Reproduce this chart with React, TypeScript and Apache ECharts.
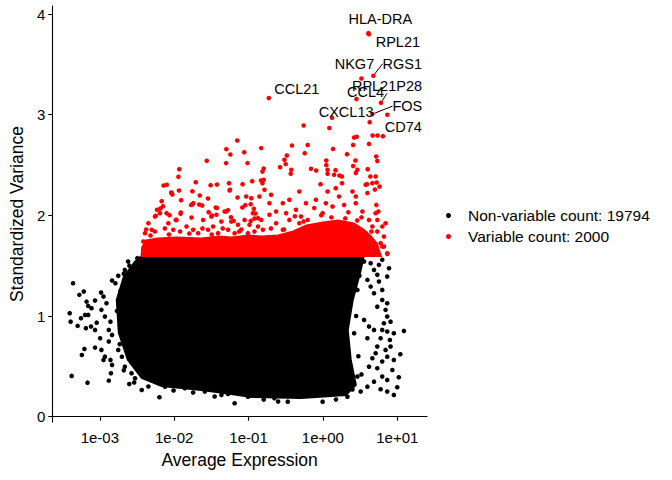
import React, { useEffect, useRef } from "react";
import * as echarts from "echarts";

// axis ticks
const xTicks = [1e-3, 1e-2, 1e-1, 1, 10];
const yTicks = [0, 1, 2, 3, 4];

const nonVariableCount = 19794;
const variableCount = 2000;

// outline of the solid black mass of non-variable genes [avg expression, std variance]
const blackCore: number[][] = [
  [0.00366, 1.597], [3.54, 1.597], [3.23, 1.458], [2.52, 1.16], [2.16, 0.861],
  [2.37, 0.564], [2.77, 0.315], [2.03, 0.216], [0.508, 0.186], [0.109, 0.196],
  [0.0587, 0.226], [0.0233, 0.266], [0.00678, 0.305], [0.00366, 0.385],
  [0.00238, 0.564], [0.0018, 0.832], [0.00169, 1.16], [0.0021, 1.389], [0.00295, 1.538],
];

// outline of the solid red band of variable genes
const redBand: number[][] = [
  [0.00366, 1.597], [0.0037, 1.68], [0.0042, 1.75], [0.006, 1.77], [0.0108, 1.78],
  [0.0233, 1.77], [0.04, 1.79], [0.0587, 1.78], [0.1, 1.8], [0.148, 1.79], [0.25, 1.8],
  [0.4, 1.84], [0.6, 1.9], [1.0, 1.93], [1.6, 1.95], [2.6, 1.92], [3.5, 1.86],
  [4.3, 1.8], [5.3, 1.72], [6.0, 1.597],
];

// scattered non-variable genes around the edges
const blackPoints: number[][] = [
  [0.000436, 1.326], [0.00053, 1.21], [0.000608, 1.243], [0.000393, 1.028], [0.000405, 0.944],
  [0.000503, 0.902], [0.000558, 0.978], [0.000663, 1.143], [0.000697, 1.1], [0.000773, 1.078],
  [0.000633, 1.011], [0.000697, 1.011], [0.00065, 0.879], [0.000762, 0.895], [0.000862, 0.862],
  [0.000907, 0.934], [0.000862, 1.153], [0.00104, 1.233], [0.00112, 1.193], [0.00062, 0.673],
  [0.000573, 0.613], [0.000862, 0.686], [0.000418, 0.405], [0.000683, 0.338], [0.00105, 0.663],
  [0.00117, 0.596], [0.00112, 0.564], [0.00139, 0.564], [0.00146, 0.514], [0.00132, 0.358],
  [0.00141, 0.431], [0.00101, 0.779], [0.00132, 0.746], [0.00146, 0.812], [0.00117, 0.994],
  [0.00139, 0.944], [0.00132, 0.862], [0.00105, 1.061], [0.00123, 1.127], [0.00146, 1.352],
  [0.00162, 1.326], [0.00177, 1.399], [0.00217, 1.458], [0.0024, 1.541], [0.00249, 0.325],
  [0.00366, 0.265], [0.00634, 0.193], [0.00752, 0.298], [0.0139, 0.282], [0.0258, 0.249],
  [0.065, 0.133], [0.0432, 0.216], [0.053, 0.226], [0.00177, 0.663], [0.00198, 0.596],
  [0.00217, 0.497], [0.00267, 0.431], [0.00298, 0.382], [0.337, 0.149], [0.991, 0.149],
  [0.0983, 0.199], [0.223, 0.183], [0.458, 0.199], [0.691, 0.216], [2.14, 0.199],
  [3.22, 0.249], [3.97, 0.298], [4.87, 0.348], [6.28, 0.398], [7.33, 0.365],
  [9.0, 0.216], [7.33, 0.249], [5.97, 0.272], [10.5, 0.392], [10.0, 0.292],
  [8.59, 0.464], [9.0, 0.564], [7.33, 0.596], [6.28, 0.547], [5.39, 0.481],
  [4.17, 0.497], [4.63, 0.58], [11.0, 0.62], [5.12, 0.63], [5.39, 0.696],
  [6.97, 0.663], [8.12, 0.696], [7.96, 0.762], [9.0, 0.829], [7.33, 0.845],
  [5.97, 0.779], [12.3, 0.852], [8.12, 0.944], [7.33, 0.994], [6.62, 0.928],
  [6.28, 0.862], [4.87, 0.862], [3.97, 0.779], [4.17, 0.895], [3.58, 0.961],
  [6.97, 1.061], [7.33, 1.127], [6.28, 1.16], [5.39, 1.093], [4.87, 1.226],
  [4.39, 1.292], [6.28, 1.259], [5.67, 1.342], [3.97, 1.359], [5.39, 1.409],
  [4.87, 1.458], [7.33, 1.392], [7.75, 1.475], [5.67, 1.508], [6.28, 1.558],
  [4.39, 1.525], [3.58, 1.541], [2.91, 1.259], [2.63, 0.829], [2.37, 0.332], [2.91, 0.398],
  [0.0025, 1.5], [0.0021, 1.42], [0.0032, 1.575], [0.0019, 1.25], [0.0017, 1.05],
  [0.00185, 0.72], [0.0021, 0.46], [0.0029, 0.34], [0.0045, 0.3], [0.0098, 0.26],
  [0.018, 0.24], [0.035, 0.2], [0.16, 0.17], [0.25, 0.15], [1.5, 0.17], [2.5, 0.27],
  [3.3, 0.42], [3.0, 0.6], [2.8, 1.0], [3.1, 1.4],
];

// scattered variable genes
const redPoints: number[][] = [
  [4.26, 2.926], [0.551, 2.893], [1.22, 2.867], [2.63, 2.773], [2.85, 2.78], [4.67, 2.793],
  [5.44, 2.793], [6.42, 2.787], [4.17, 2.71], [2.55, 2.7], [1.37, 2.66], [0.624, 2.7],
  [0.384, 2.694], [0.148, 2.668], [0.0706, 2.744], [0.0503, 2.658], [0.0569, 2.605],
  [0.0875, 2.628], [0.569, 2.618], [2.11, 2.608], [0.327, 2.595], [0.0499, 2.519],
  [0.097, 2.519], [0.304, 2.552], [0.316, 2.509], [1.11, 2.545], [2.74, 2.545], [2.55, 2.49],
  [5.22, 2.585], [0.266, 2.479], [0.16, 2.465], [0.154, 2.435], [0.376, 2.452], [0.369, 2.413],
  [0.691, 2.462], [0.813, 2.445], [1.11, 2.499], [1.155, 2.452], [1.48, 2.449], [1.67, 2.396],
  [1.8, 2.386], [2.91, 2.452], [4.0, 2.459], [5.39, 2.539], [0.147, 2.346], [0.16, 2.353],
  [0.154, 2.32], [0.0546, 2.32], [0.0563, 2.254], [0.0833, 2.31], [0.112, 2.34], [0.93, 2.31],
  [1.81, 2.32], [3.92, 2.31], [5.28, 2.326], [5.79, 2.286], [5.0, 2.256], [4.35, 2.386],
  [0.0274, 2.542], [0.0117, 2.459], [0.0114, 2.383], [0.0195, 2.33], [0.00721, 2.296],
  [0.00794, 2.303], [0.0309, 2.3], [0.0376, 2.306], [0.00914, 2.227], [0.00943, 2.207],
  [0.0116, 2.247], [0.0176, 2.24], [0.0221, 2.197], [0.0124, 2.151], [0.0285, 2.167],
  [0.0711, 2.177], [0.0931, 2.187], [0.00679, 2.141], [0.00707, 2.091], [0.00652, 2.068],
  [0.00588, 2.055], [0.00565, 1.995], [0.0169, 2.104], [0.0181, 2.121], [0.0217, 2.107],
  [0.0238, 2.097], [0.0362, 2.078], [0.0503, 2.038], [0.053, 2.052], [0.0826, 2.078],
  [0.0904, 2.101], [0.107, 2.111], [0.0122, 2.015], [0.0105, 1.955], [0.00866, 2.002],
  [0.0322, 1.998], [0.0376, 2.072], [0.0581, 1.982], [0.063, 1.945], [0.118, 2.065],
  [0.124, 2.018], [0.107, 1.945], [0.12, 1.968], [0.00923, 2.221], [0.0557, 2.247],
  [0.109, 2.171], [0.0176, 2.111], [0.0291, 2.032], [0.037, 2.005], [0.0477, 2.038],
  [0.1146, 2.022], [0.1337, 1.972], [0.0884, 1.955], [0.00552, 1.988], [0.00791, 2.022],
  [0.0123, 2.028], [0.0171, 1.978], [0.0317, 1.988], [0.0431, 1.938], [0.0587, 1.938],
  [0.0721, 1.906], [0.01076, 1.955], [0.0245, 1.955], [0.0045, 1.922], [0.00498, 1.856],
  [0.00405, 1.823], [0.00385, 1.74], [1.156, 2.413], [1.416, 2.403], [2.77, 2.42],
  [5.12, 2.386], [0.164, 2.254], [0.14, 2.187], [0.201, 2.204], [0.191, 2.121], [2.5, 2.237],
  [3.76, 2.303], [4.63, 2.32], [3.97, 2.221], [2.77, 2.187], [1.49, 2.27], [1.156, 2.237],
  [0.482, 2.237], [0.354, 2.154], [0.289, 2.121], [0.592, 2.121], [0.806, 2.154], [1.097, 2.121],
  [1.65, 2.187], [0.235, 2.038], [0.32, 2.022], [0.435, 2.055], [0.508, 1.988], [0.765, 2.072],
  [0.991, 2.022], [1.349, 2.087], [1.93, 2.104], [2.77, 2.121], [3.4, 2.038], [5.12, 2.022],
  [5.4, 1.955], [6.3, 1.889], [6.62, 1.789], [6.3, 1.69], [7.35, 1.624], [5.24, 2.104],
  [5.57, 2.038], [6.97, 1.922], [5.97, 1.724], [6.62, 1.69], [3.97, 1.624], [5.39, 1.624],
  [7.33, 1.617], [0.00644, 2.022], [0.00834, 1.922], [0.00973, 1.856], [0.01466, 1.889],
  [0.018, 1.856], [0.021, 1.823], [0.0286, 1.856], [0.0334, 1.889], [0.0389, 1.823],
  [0.053, 1.856], [0.065, 1.823], [0.0982, 1.823], [0.103, 1.906], [0.134, 1.889],
  [0.148, 1.955], [0.191, 2.005], [0.235, 1.922], [0.354, 1.955], [0.482, 1.922],
  [0.624, 1.955], [0.156, 1.856], [0.289, 1.856], [4.17, 1.955], [4.63, 1.889],
  [5.39, 1.839], [3.76, 1.823], [0.0042, 1.86], [0.0055, 1.84], [0.0075, 1.87],
  [0.012, 1.84], [0.024, 1.87], [0.045, 1.87], [0.08, 1.86], [0.2, 1.87], [0.42, 1.99],
  [0.95, 2.0], [2.2, 2.03], [3.3, 1.98], [0.0048, 1.8], [0.0085, 1.81], [0.016, 1.82],
  [0.032, 1.81], [0.075, 1.84], [0.12, 1.84], [0.3, 1.86], [0.55, 1.94], [1.3, 1.98],
  [2.0, 1.97], [2.9, 1.95], [4.5, 1.84],
];

// top variable genes that get a text label
const topGenes = ["HLA-DRA", "RPL21", "NKG7", "RGS1", "RPL21P28", "CCL4", "CCL21", "CXCL13", "FOS", "CD74"];
const topValues: number[][] = [
  [4.09, 3.81], [4.15, 3.8], [3.3, 3.36], [4.77, 3.387], [6.04, 3.118],
  [2.83, 3.155], [0.1875, 3.165], [1.33, 2.97], [4.63, 3.006], [7.35, 3.0],
];
// label offsets in px (repel result) and which labels have a segment
const labelShift: [number, number, boolean][] = [
  [12, -14, false],
  [29, 8, false],
  [-7, -14, false],
  [29, -12, true],
  [6, -17, true],
  [9, -7, false],
  [28, -9, false],
  [14, -6, false],
  [35, -8, true],
  [16, 12, false],
];

const FONT = "Liberation Sans, Arial, sans-serif";

const fmtExp = (v: number) => {
  const e = Math.round(Math.log10(v));
  return `1e${e < 0 ? "-" : "+"}${String(Math.abs(e)).padStart(2, "0")}`;
};

const polygonSeries = (data: number[][], color: string) => ({
  type: "custom",
  silent: true,
  data: [data[0]],
  renderItem: (params: any, api: any) => {
    if (params.dataIndex !== 0) return null;
    return {
      type: "polygon",
      shape: { points: data.map((p) => api.coord(p)) },
      style: { fill: color, stroke: color, lineWidth: 2 },
    };
  },
});

const App = () => {
  const chartRef = useRef<HTMLDivElement>(null);

  useEffect(() => {
    if (!chartRef.current) return;
    const chart = echarts.init(chartRef.current, null, { renderer: "svg" });

    const nonVarName = `Non-variable count: ${nonVariableCount}`;
    const varName = `Variable count: ${variableCount}`;
    const nRed = redPoints.length;

    const labelled = topGenes.map((g, i) => ({
      name: g,
      value: topValues[i],
      label: { show: true, formatter: g },
      labelLine: { show: labelShift[i][2] },
    }));

    const option: any = {
      animation: false,
      textStyle: { fontFamily: FONT },
      grid: { left: 50, right: 245, top: 6, bottom: 58 },
      legend: {
        data: [nonVarName, varName],
        orient: "vertical",
        left: 441,
        top: 200,
        icon: "circle",
        itemWidth: 29,
        itemHeight: 5,
        itemGap: 0,
        textStyle: { fontSize: 15.5, color: "#000", lineHeight: 21, fontFamily: FONT },
        selectedMode: false,
      },
      xAxis: {
        type: "log",
        logBase: 10,
        min: Math.pow(10, -3.64),
        max: Math.pow(10, 1.4),
        name: "Average Expression",
        nameLocation: "middle",
        nameGap: 29,
        nameTextStyle: { fontSize: 17.5, color: "#000", fontFamily: FONT },
        axisLine: { lineStyle: { color: "#000", width: 1.1 } },
        axisTick: { length: 4, lineStyle: { color: "#000", width: 1.1 }, customValues: xTicks },
        axisLabel: {
          fontSize: 15,
          color: "#000",
          margin: 8,
          customValues: xTicks,
          formatter: fmtExp,
        },
        splitLine: { show: false },
      },
      yAxis: {
        type: "value",
        min: -0.053,
        max: 4.08,
        name: "Standardized Variance",
        nameLocation: "middle",
        nameGap: 24,
        nameTextStyle: { fontSize: 17.5, color: "#000", fontFamily: FONT },
        axisLine: { show: true, lineStyle: { color: "#000", width: 1.1 } },
        axisTick: { show: true, length: 4, lineStyle: { color: "#000", width: 1.1 }, customValues: yTicks },
        axisLabel: { fontSize: 15, color: "#000", margin: 7, customValues: yTicks },
        splitLine: { show: false },
      },
      series: [
        polygonSeries(blackCore, "#000"),
        {
          name: nonVarName,
          type: "scatter",
          symbolSize: 4.6,
          itemStyle: { color: "#000", opacity: 1 },
          data: blackPoints,
          silent: true,
        },
        polygonSeries(redBand, "#ff0000"),
        {
          name: varName,
          type: "scatter",
          symbolSize: 4.6,
          itemStyle: { color: "#ff0000", opacity: 1 },
          data: [...redPoints, ...labelled],
          silent: true,
          label: {
            show: false,
            position: "inside",
            fontSize: 14.5,
            color: "#000",
            fontFamily: FONT,
          },
          labelLine: { show: false, lineStyle: { color: "#000", width: 1 } },
          labelLayout: (p: any) => {
            const s = labelShift[p.dataIndex - nRed];
            if (!s) return {};
            return { dx: s[0], dy: s[1], hideOverlap: false };
          },
        },
      ],
    };

    chart.setOption(option);
    return () => chart.dispose();
  }, []);

  return (
    <div style={{ position: "fixed", left: 0, top: 0, width: 672, height: 480, background: "#fff" }}>
      <div ref={chartRef} style={{ width: 672, height: 480 }} />
    </div>
  );
};

export default App;
